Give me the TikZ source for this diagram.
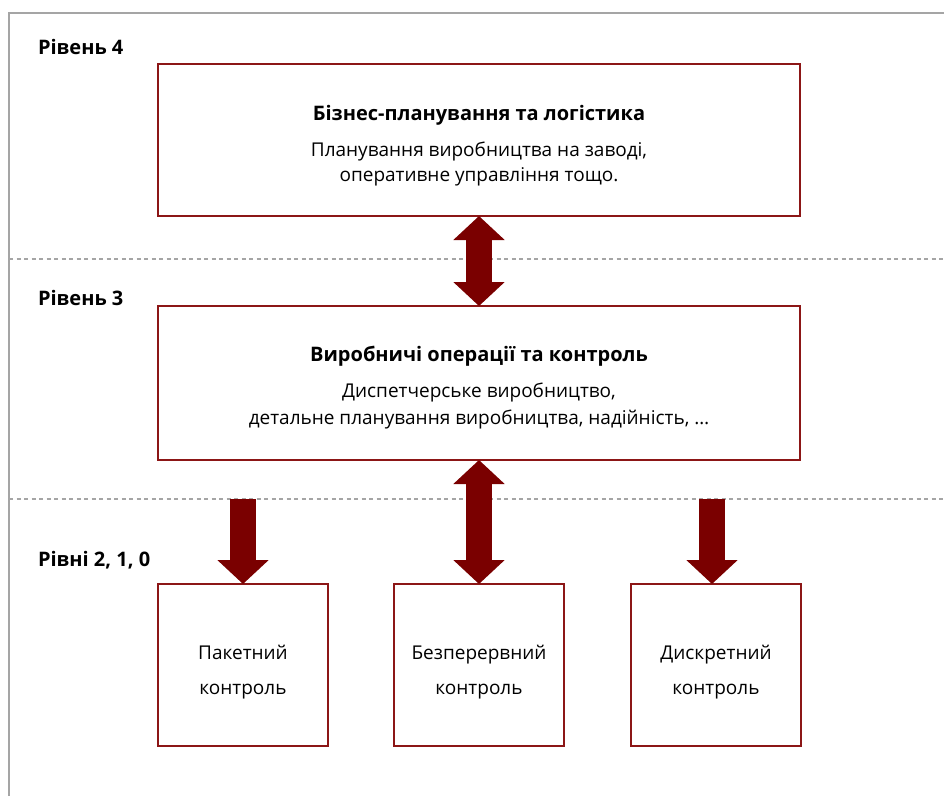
\documentclass[tikz,border=0pt]{standalone}
\usepackage{fontspec}
\setmainfont{Open Sans}
\usetikzlibrary{arrows.meta}
\definecolor{boxred}{RGB}{140,22,22}
\definecolor{arrred}{RGB}{122,0,0}
\definecolor{framegray}{RGB}{165,165,165}

\begin{document}
\begin{tikzpicture}[x=1pt,y=-1pt]
\tikzset{ >=latex, inner sep=0pt, outer sep=0pt,
  box/.style={draw=boxred, line width=2.5pt},
  txt/.style={align=center, font=\fontsize{19}{27}\selectfont},
  lvl/.style={anchor=west, font=\fontsize{20}{24}\selectfont\bfseries},
  fat/.style={draw=arrred, line width=26pt},
  blk/.tip={Triangle[width=50pt,length=24pt]},
  cut/.style={framegray, line width=1.6pt, dash pattern=on 4pt off 3.5pt},
}
\useasboundingbox (0,0) rectangle (944,796);
%\draw [lightgray, dashed](0,0) grid[step=50] (944,796);

% frame and level borders
\draw [framegray, line width=2pt] (9,796) -- (9,13) -- (944,13);
\coordinate (cut1) at (9,259);
\coordinate (cut2) at (9,499);
\draw [cut] (cut1) -- (944,259);
\draw [cut] (cut2) -- (944,499);

\node [lvl] (L4) at (38,47)  {Рівень 4};
\node [lvl] (L3) at (38,298) {Рівень 3};
\node [lvl] (L2) at (38,560) {Рівні 2, 1, 0};

\node [box, minimum width=642pt, minimum height=152pt] (BP) at (479,140) {};
\node [box, minimum width=642pt, minimum height=154pt] (VO) at (479,383) {};
\node [box, minimum width=170pt, minimum height=162pt] (PK) at (243,665) {};
\node [box, minimum width=170pt, minimum height=162pt] (BK) at (479,665) {};
\node [box, minimum width=170pt, minimum height=162pt] (DK) at (716,665) {};

\node [txt, font=\fontsize{19}{25}\selectfont] (BPt) at ([yshift=-6pt]BP.center)
  {{\fontsize{20}{24}\selectfont\bfseries Бізнес-планування та логістика}\\[11pt]
   Планування виробництва на заводі,\\ оперативне управління тощо.};
\node [txt] (VOt) at ([yshift=-5pt]VO.center)
  {{\fontsize{20}{24}\selectfont\bfseries Виробничі операції та контроль}\\[9pt]
   Диспетчерське виробництво,\\ детальне планування виробництва, надійність, \dots};

\node [txt, font=\fontsize{19}{35}\selectfont] (PKt) at ([yshift=-7pt]PK.center) {Пакетний\\ контроль};
\node [txt, font=\fontsize{19}{35}\selectfont] (BKt) at ([yshift=-7pt]BK.center) {Безперервний\\ контроль};
\node [txt, font=\fontsize{19}{35}\selectfont] (DKt) at ([yshift=-7pt]DK.center) {Дискретний\\ контроль};

\draw [fat, blk-blk] (BP.south) -- (VO.north);
\draw [fat, blk-blk] (VO.south) -- (BK.north);
\draw [fat, -blk] (PK.north |- cut2) -- (PK.north);
\draw [fat, -blk] ([xshift=-4pt]DK.north |- cut2) -- ([xshift=-4pt]DK.north);

\end{tikzpicture}
\end{document}
